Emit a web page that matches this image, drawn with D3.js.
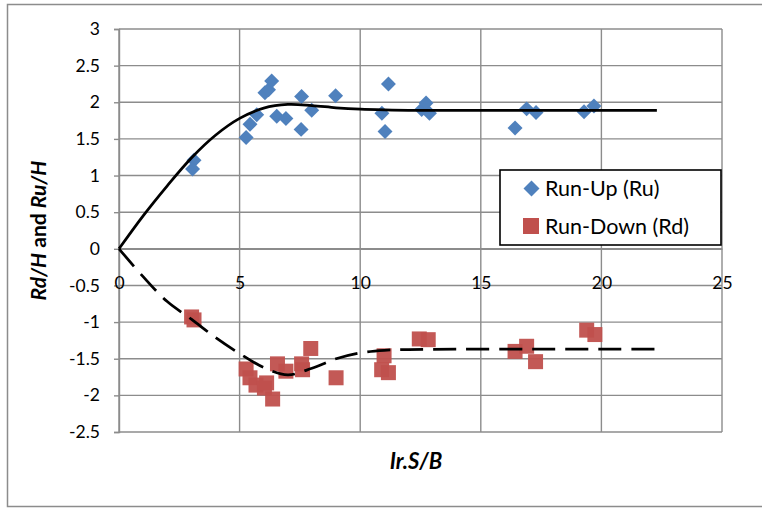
<!DOCTYPE html>
<html>
<head>
<meta charset="utf-8">
<script src="https://cdn.jsdelivr.net/npm/d3@7"></script>
<style>
  html, body { margin: 0; padding: 0; background: #fff; }
  svg { display: block; font-family: Lato, "Open Sans", sans-serif; }
</style>
</head>
<body>
<svg id="chart" width="762" height="508"></svg>
<script>
// Measured run-up (Ru/H) against surf similarity Ir.S/B
const runUpX = [3.11, 3.05, 5.27, 5.43, 5.71, 6.05, 6.2, 6.33, 6.54, 6.92, 7.57, 7.55, 7.99, 8.98,
                10.9, 11.03, 11.17, 12.55, 12.73, 12.87, 16.42, 16.9, 17.29, 19.28, 19.69];
const runUpY = [1.21, 1.09, 1.52, 1.70, 1.83, 2.13, 2.17, 2.29, 1.81, 1.78, 2.08, 1.63, 1.89, 2.09,
                1.85, 1.60, 2.25, 1.90, 1.99, 1.85, 1.65, 1.91, 1.86, 1.87, 1.95];

// Measured run-down (Rd/H)
const runDownX = [3.01, 3.11, 5.27, 5.43, 5.68, 6.03, 6.12, 6.37, 6.57, 6.92, 7.57, 7.61, 7.95, 9.0,
                  10.99, 10.89, 11.17, 12.45, 12.82, 16.42, 16.9, 17.27, 19.39, 19.73];
const runDownY = [-0.93, -0.97, -1.64, -1.76, -1.86, -1.90, -1.83, -2.05, -1.57, -1.67, -1.57, -1.65, -1.36, -1.76,
                  -1.46, -1.65, -1.69, -1.23, -1.24, -1.40, -1.33, -1.54, -1.11, -1.17];

// Fitted trend curves
const fitUpX   = [0, 1, 2, 3, 4, 5, 6, 7, 8, 9, 10, 11, 12, 14, 17, 20, 22.3];
const fitUpY   = [0, 0.45, 0.86, 1.24, 1.55, 1.78, 1.92, 1.97, 1.955, 1.925, 1.905, 1.895, 1.89, 1.89, 1.89, 1.89, 1.89];
const fitDownX = [0, 1, 2, 3, 4, 5, 6, 7, 8, 9, 10, 11, 12, 14, 17, 20, 22.3];
const fitDownY = [0, -0.38, -0.72, -0.96, -1.21, -1.43, -1.62, -1.72, -1.63, -1.50, -1.42, -1.385, -1.375, -1.37, -1.37, -1.37, -1.37];

const xTicks = [0, 5, 10, 15, 20, 25];
const yTicks = [-2.5, -2, -1.5, -1, -0.5, 0, 0.5, 1, 1.5, 2, 2.5, 3];
const seriesNames = ["Run-Up (Ru)", "Run-Down (Rd)"];

const svg = d3.select("#chart");
const plot = { left: 119, right: 722, top: 29, bottom: 432 };
const gridColor = "#8c8c8c";
const blue = "#4F81BD", red = "#C0504D";
const plainNumber = d => String(d);   // keeps an ASCII hyphen for negatives

const x = d3.scaleLinear().domain([0, 25]).range([plot.left, plot.right]);
const y = d3.scaleLinear().domain([-2.5, 3]).range([plot.bottom, plot.top]);

// chart frame
svg.append("rect")
  .attr("x", 7.5).attr("y", 4.5).attr("width", 780).attr("height", 502)
  .attr("fill", "#fff").attr("stroke", gridColor).attr("stroke-width", 1.5);

// gridlines
const grid = svg.append("g");
grid.selectAll("line.h").data(yTicks).join("line")
  .attr("x1", plot.left).attr("x2", plot.right)
  .attr("y1", d => y(d)).attr("y2", d => y(d))
  .attr("stroke", gridColor).attr("stroke-width", 1.4);
grid.selectAll("line.v").data(xTicks).join("line")
  .attr("y1", plot.top).attr("y2", plot.bottom)
  .attr("x1", d => x(d)).attr("x2", d => x(d))
  .attr("stroke", gridColor).attr("stroke-width", 1.4);

// y axis
const yAxis = svg.append("g")
  .attr("transform", `translate(${plot.left},0)`)
  .call(d3.axisLeft(y).tickValues(yTicks).tickSize(5).tickPadding(14).tickFormat(plainNumber));
yAxis.select(".domain").attr("stroke", gridColor).attr("stroke-width", 1.4);
yAxis.selectAll(".tick line").attr("stroke", gridColor).attr("stroke-width", 1.4);
yAxis.selectAll(".tick text").attr("font-size", 17.5).attr("fill", "#000")
  .attr("font-family", "Lato, sans-serif");

// x axis crossing at zero
const xAxis = svg.append("g")
  .attr("transform", `translate(0,${y(0)})`)
  .call(d3.axisBottom(x).tickValues(xTicks).tickSize(0).tickPadding(28).tickFormat(plainNumber));
xAxis.select(".domain").attr("stroke", gridColor).attr("stroke-width", 1.4);
xAxis.selectAll(".tick text").attr("font-size", 17.5).attr("fill", "#000")
  .attr("font-family", "Lato, sans-serif");

// markers
const diamond = d3.symbol(d3.symbolSquare, 112);
const square = d3.symbol(d3.symbolSquare, 225);
svg.append("g").selectAll("path").data(d3.range(runUpX.length)).join("path")
  .attr("d", diamond)
  .attr("transform", i => `translate(${x(runUpX[i])},${y(runUpY[i])}) rotate(45)`)
  .attr("fill", blue);
svg.append("g").selectAll("path").data(d3.range(runDownX.length)).join("path")
  .attr("d", square)
  .attr("transform", i => `translate(${x(runDownX[i])},${y(runDownY[i])})`)
  .attr("fill", red).attr("fill-opacity", 0.95);

// fitted curves
const line = d3.line().x(p => x(p[0])).y(p => y(p[1])).curve(d3.curveCatmullRom.alpha(0.5));
svg.append("path")
  .attr("d", line(d3.zip(fitUpX, fitUpY)))
  .attr("fill", "none").attr("stroke", "#000").attr("stroke-width", 2.75);
svg.append("path")
  .attr("d", line(d3.zip(fitDownX, fitDownY)))
  .attr("fill", "none").attr("stroke", "#000").attr("stroke-width", 2.75)
  .attr("stroke-dasharray", "23,10");

// axis titles
svg.append("text")
  .attr("x", 416).attr("y", 469)
  .attr("text-anchor", "middle")
  .attr("font-size", 22).attr("font-weight", "bold").attr("font-style", "italic")
  .text("Ir.S/B");

const yTitle = svg.append("text")
  .attr("transform", `translate(46,${(plot.top + plot.bottom) / 2}) rotate(-90)`)
  .attr("text-anchor", "middle")
  .attr("font-size", 21).attr("font-weight", "bold");
yTitle.append("tspan").attr("font-style", "italic").text("Rd/H");
yTitle.append("tspan").text(" and ");
yTitle.append("tspan").attr("font-style", "italic").text("Ru/H");

// legend
const legend = svg.append("g");
legend.append("rect")
  .attr("x", 500).attr("y", 170).attr("width", 221).attr("height", 75)
  .attr("fill", "#fff").attr("stroke", "#000").attr("stroke-width", 1.6);
legend.append("path").attr("d", d3.symbol(d3.symbolSquare, 128))
  .attr("transform", "translate(531.5,188.5) rotate(45)").attr("fill", blue);
legend.append("path").attr("d", d3.symbol(d3.symbolSquare, 256))
  .attr("transform", "translate(531,226)").attr("fill", red);
legend.selectAll("text.lbl").data(seriesNames).join("text")
  .attr("x", 545).attr("y", (d, i) => 196 + i * 38)
  .attr("font-size", 21.5).attr("fill", "#000")
  .text(d => d);
</script>
</body>
</html>
